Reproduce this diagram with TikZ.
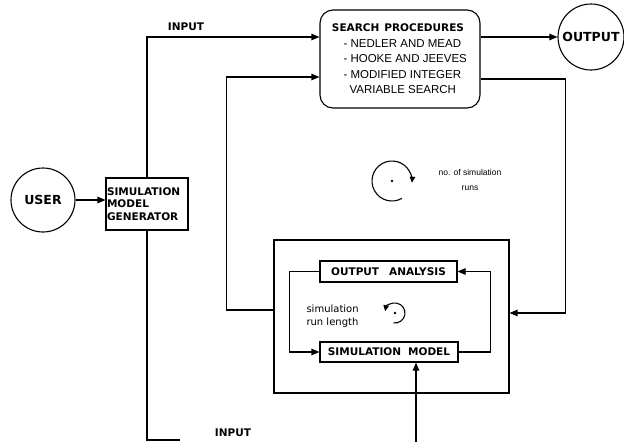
\documentclass[tikz,border=0pt]{standalone}
\usepackage{fontspec}
\setmainfont{DejaVu Sans}
\newfontfamily\listfont{Liberation Sans}
\newcommand{\capfont}{\bfseries\fontsize{10.5}{12.5}\selectfont}
\usetikzlibrary{positioning, calc, arrows.meta}
\tikzset{
    capsfont/.style={font=\capfont},
    blockbox/.style={rectangle, draw, line width=1.1pt, inner sep=1pt, capsfont},
    endcircle/.style={circle, draw, line width=1.1pt, inner sep=0pt, font=\bfseries\fontsize{12.5}{14}\selectfont},
    flow/.style={-{Triangle[length=8pt, width=6.5pt]}, line width=1.1pt},
    wire/.style={line width=1.1pt},
    loopmark/.style={-{Triangle[length=6pt, width=5.5pt]}, line width=1.1pt},
    smalltext/.style={font=\fontsize{10}{13.5}\selectfont, align=left},
}
\begin{document}
\begin{tikzpicture}[x=1pt, y=-1pt]
    \useasboundingbox (0,0) rectangle (624,442);

    % Nodes
    \node[endcircle, minimum size=64pt] (user) at (43,200) {USER};
    \node[blockbox, minimum width=82pt, minimum height=52pt, text width=80pt, align=left, inner xsep=0.5pt] (gen) at (147,204)
        {SIMULATION\\MODEL\\GENERATOR};
    \node[rectangle, draw, line width=1.1pt, rounded corners=13pt, minimum width=160pt, minimum height=98pt, align=center] (search) at (400,59) {};
    \node[capsfont] (searchtitle) at (398,28) {SEARCH\hspace{5pt}PROCEDURES};
    \node[font=\listfont\fontsize{11.5}{15.5}\selectfont, align=left, anchor=north west] (searchlist) at (340,36)
        {- NEDLER AND MEAD\\- HOOKE AND JEEVES\\- MODIFIED INTEGER\\\hspace{6pt}VARIABLE SEARCH};
    \node[endcircle, minimum size=66pt] (output) at (591,37) {OUTPUT};
    \node[rectangle, draw, line width=1.1pt, minimum width=235pt, minimum height=153pt] (frame) at (391.5,316.5) {};
    \node[blockbox, minimum width=137pt, minimum height=21pt] (analysis) at (388.5,271.5) {OUTPUT\hspace{10pt}ANALYSIS};
    \node[blockbox, minimum width=138pt, minimum height=20pt] (simmodel) at (389,352) {SIMULATION\hspace{7pt}MODEL};

    % Free ends at the bottom edge
    \coordinate (genout) at (180,440);
    \coordinate (simin) at (416,442);

    % Labels
    \node[capsfont] (inputtop) at (186,27) {INPUT};
    \node[capsfont] (inputbot) at (233,433) {INPUT};
    \node[font=\listfont\fontsize{8.5}{15}\selectfont, align=center] (runsno) at (470,180) {no. of simulation\\runs};
    \node[smalltext, anchor=west] (runlen) at (303,316) {simulation\\run length};

    % Connectors
    \draw[flow] (user.east) -- (user.east -| gen.west);
    \draw[flow] (gen.north) |- ([yshift=22pt]search.west);
    \draw[flow] ([yshift=6.5pt]frame.west) -- ++(-47,0) |- ([yshift=-18pt]search.west);
    \draw[flow] (search.east |- output.west) -- (output.west);
    \draw[flow] ([yshift=-20pt]search.east) -- ++(85,0) |- ([yshift=3.5pt]frame.east);
    \draw[flow] (analysis.west) -- ++(-30,0) |- (simmodel.west);
    \draw[flow] (simmodel.east) -- ++(32,0) |- (analysis.east);
    \draw[flow] (simin) -- (simin |- simmodel.south);
    \draw[wire] (gen.south) |- (genout);

    % Loop marks
    \draw[loopmark] (392,181) ++(60:20) arc[start angle=60, end angle=365, radius=20];
    \fill (392,181) circle (1.4pt);
    \draw[loopmark] (395,313) ++(100:10) arc[start angle=100, end angle=-170, radius=10];
    \fill (395,313) circle (1.3pt);
\end{tikzpicture}
\end{document}
